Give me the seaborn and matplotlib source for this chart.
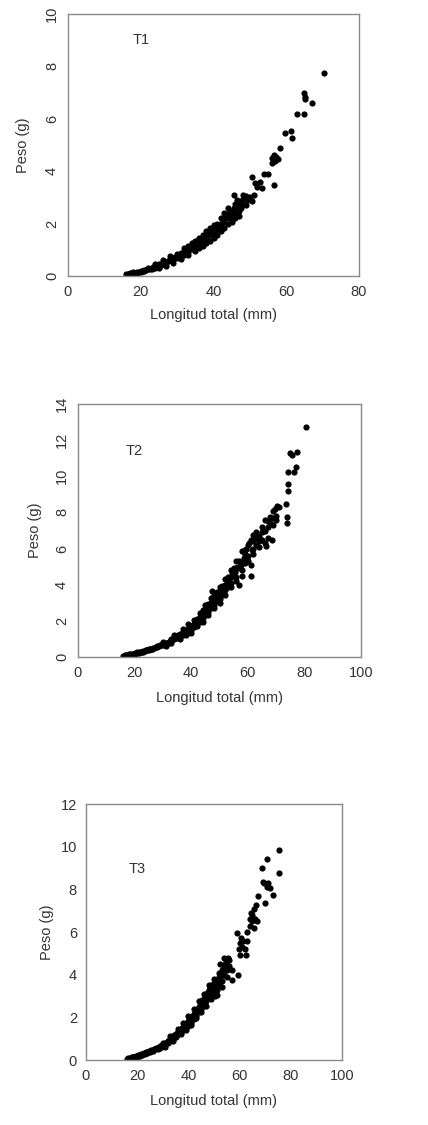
import numpy as np
import pandas as pd
import matplotlib.pyplot as plt
import seaborn as sns

# T1: longitud total (mm), peso (g)
t1_len = [16, 16.5, 17, 17, 17.5, 18, 18, 18.5, 19, 19, 19.5, 20, 20, 20.5, 21, 21, 21.5, 22, 22, 22.5,
          23, 23, 23.5, 24, 24, 24.5, 25, 25, 25.5, 26, 26, 26.5, 27, 27, 27.5, 28, 28, 28.5, 29, 29,
          29.5, 30, 30, 30.5, 31, 31, 31.5, 32, 32, 32.5, 33, 33, 33.5, 34, 34, 34.5, 35, 35, 35.5, 36,
          36, 36.5, 37, 37, 37.5, 38, 38, 38.5, 39, 39, 39.5, 40, 40, 40.5, 41, 41, 41.5, 42, 42, 42.5,
          43, 43, 43.5, 44, 44, 44.5, 45, 45, 45.5, 45.6, 46, 46, 46.5, 47, 47, 47.5, 48, 48, 49, 49.5,
          50, 50.5, 50.5, 51, 51.5, 52, 52.8, 53.2, 54, 55, 56.6, 56, 56.2, 56.5, 57, 57.3, 57.8, 58.3,
          59.7, 61.3, 61.7, 62.9, 64.9, 65, 65.1, 65.2, 67.2, 70.4,
          24, 25, 26, 27, 28, 29, 30, 31, 32, 33, 34, 35, 36, 37, 38, 39, 40, 41, 42, 43,
          44, 45, 46, 47, 48, 49, 36, 38, 40, 42, 44, 46, 33, 35, 37, 39, 41, 43, 44.5, 47.5]
t1_w = [0.07, 0.08, 0.09, 0.12, 0.1, 0.11, 0.14, 0.13, 0.15, 0.12, 0.17, 0.18, 0.15, 0.2, 0.22, 0.18, 0.24, 0.26, 0.3, 0.27,
        0.3, 0.25, 0.33, 0.35, 0.3, 0.38, 0.4, 0.45, 0.42, 0.47, 0.52, 0.5, 0.55, 0.48, 0.58, 0.6, 0.66, 0.63, 0.68, 0.6,
        0.72, 0.75, 0.68, 0.8, 0.78, 0.86, 0.84, 0.9, 0.82, 0.95, 1.0, 0.92, 1.05, 1.1, 1.02, 1.15, 1.2, 1.1, 1.25, 1.28,
        1.2, 1.35, 1.4, 1.3, 1.42, 1.5, 1.4, 1.6, 1.62, 1.85, 1.7, 1.75, 1.6, 1.8, 1.85, 2.0, 1.9, 2.0, 1.8, 2.1,
        2.2, 2.05, 2.3, 2.35, 2.2, 2.5, 2.4, 2.25, 2.6, 3.09, 2.55, 2.4, 2.9, 2.7, 2.5, 2.85, 2.95, 2.75, 3.05, 2.9,
        3.0, 3.77, 2.85, 3.1, 3.55, 3.4, 3.6, 3.35, 3.9, 3.9, 3.49, 4.5, 4.3, 4.6, 4.4, 4.55, 4.45, 4.87,
        5.45, 5.53, 5.28, 6.2, 6.2, 6.97, 6.84, 6.74, 6.6, 7.76,
        0.45, 0.32, 0.6, 0.4, 0.75, 0.5, 0.85, 0.65, 1.05, 0.8, 1.25, 0.95, 1.45, 1.15, 1.7, 1.35, 1.95, 1.55, 2.2, 1.85,
        2.6, 2.05, 2.75, 2.3, 3.1, 2.7, 1.05, 1.25, 1.45, 1.7, 2.0, 2.2, 1.15, 1.35, 1.55, 1.55, 1.7, 2.4, 2.25, 2.6]

# T2
t2_len = [16, 16.5, 17, 17.5, 18, 18, 18.5, 19, 19, 19.5, 20, 20, 20.5, 21, 21, 21.5, 22, 22, 22.5, 23,
          23, 23.5, 24, 24, 24.5, 25, 25, 25.5, 26, 26, 26.5, 27, 27.5, 28, 28, 28.5, 29, 29.5, 30, 30,
          30.5, 31, 31.5, 32, 32, 32.5, 33, 33, 33.5, 34, 34, 34.5, 35, 35, 35.5, 36, 36, 36.5, 37, 37,
          37.5, 38, 38, 38.5, 39, 39, 39.5, 40, 40, 40.5, 41, 41, 41.5, 42, 42, 42.5, 43, 43, 43.5, 44,
          44, 44.5, 45, 45, 45.5, 46, 46, 46.5, 47, 47, 47.2, 47.5, 48, 48, 48.5, 49, 49, 49.5, 50, 50,
          50.5, 51, 51, 51.5, 52, 52, 52.5, 53, 53, 53.5, 54, 54, 54.5, 55, 55, 55.5, 56, 56, 56.5, 57,
          57, 57.5, 58, 58, 58.5, 59, 59, 59.5, 60, 60, 60.5, 61, 61, 61.5, 62, 62, 62.5, 63, 63, 64,
          64, 65, 65, 65.5, 66, 66, 66.4, 67, 67, 68, 68.4, 68, 69, 69.6, 70.2, 70, 73.5, 73.7, 73.8,
          74.1, 74.3, 74.3, 74.9, 75.5, 76.3, 77, 77.5, 80.4,
          30, 31, 33, 34, 36, 37, 38, 39, 40, 41, 42, 43, 44, 45, 46, 47, 48, 49, 50, 51,
          52, 53, 54, 55, 56, 57, 58, 59, 60, 61, 62, 63, 64, 65, 66, 67, 69, 70, 71, 69,
          44, 46, 48, 50, 52, 54, 56, 58, 62]
t2_w = [0.07, 0.1, 0.09, 0.12, 0.11, 0.14, 0.15, 0.13, 0.17, 0.18, 0.17, 0.2, 0.22, 0.2, 0.25, 0.24, 0.27, 0.3, 0.3, 0.32,
        0.28, 0.35, 0.36, 0.4, 0.4, 0.42, 0.38, 0.45, 0.47, 0.43, 0.5, 0.52, 0.55, 0.57, 0.62, 0.6, 0.64, 0.68, 0.7, 0.65,
        0.74, 0.78, 0.8, 0.85, 0.78, 0.9, 0.95, 1.02, 1.0, 1.05, 0.98, 1.1, 1.15, 1.05, 1.2, 1.25, 1.15, 1.3, 1.35, 1.2,
        1.4, 1.45, 1.3, 1.5, 1.55, 1.45, 1.7, 1.65, 1.5, 1.75, 1.8, 1.65, 2.0, 1.95, 2.1, 2.05, 2.2, 1.95, 2.3, 2.35,
        2.15, 2.5, 2.6, 2.3, 2.7, 2.75, 2.5, 2.9, 3.0, 2.7, 3.67, 3.1, 3.2, 2.9, 3.3, 3.4, 3.1, 3.55, 3.5, 3.2,
        3.7, 3.75, 3.45, 3.9, 4.0, 3.7, 4.1, 4.2, 3.9, 4.3, 4.4, 4.1, 4.6, 4.5, 4.8, 4.7, 4.9, 4.4, 5.0, 4.95,
        3.98, 5.1, 5.2, 4.8, 5.5, 5.7, 5.2, 6.0, 6.2, 5.6, 6.3, 5.1, 4.5, 5.9, 6.4, 6.0, 6.6, 6.6, 6.2, 6.7,
        6.4, 6.9, 6.5, 7.0, 7.0, 7.6, 6.14, 7.2, 6.6, 7.4, 6.5, 7.75, 7.7, 8.17, 8.36, 7.8, 8.45, 7.73, 7.43,
        10.22, 9.6, 9.2, 11.3, 11.18, 10.22, 10.53, 11.36, 12.7,
        0.85, 0.6, 0.8, 1.2, 1.0, 1.55, 1.2, 1.8, 1.35, 2.05, 1.7, 2.45, 1.95, 2.85, 2.3, 3.25, 2.7, 3.6, 3.0, 3.95,
        3.45, 4.45, 3.85, 4.95, 4.2, 5.3, 4.5, 5.9, 5.3, 6.5, 5.7, 6.9, 6.1, 7.2, 6.3, 7.5, 7.3, 7.6, 8.3, 8.1,
        2.6, 2.95, 3.45, 3.85, 4.3, 4.8, 5.3, 5.85, 6.75]

# T3
t3_len = [16, 16.5, 17, 17.5, 18, 18, 18.5, 19, 19, 19.5, 20, 20, 20.5, 21, 21, 21.5, 22, 22, 22.5, 23,
          23, 23.5, 24, 24, 24.5, 25, 25, 25.5, 26, 26, 26.5, 27, 27.5, 28, 28, 28.5, 29, 29, 29.5, 30,
          30, 30.5, 31, 31, 31.5, 32, 32, 32.5, 33, 33, 33.5, 34, 34, 34.5, 35, 35, 35.5, 36, 36, 36.5,
          37, 37, 37.5, 38, 38, 38.5, 39, 39, 39.5, 40, 40, 40.5, 41, 41, 41.5, 42, 42, 42.5, 43, 43,
          43.5, 44, 44, 44.5, 45, 45, 45.5, 46, 46, 46.5, 47, 47, 47.5, 48, 48, 48.5, 49, 49, 49.5, 50,
          50, 50.5, 51, 51, 51.5, 52, 52, 52.5, 53, 53, 53.8, 54, 54, 54.5, 55, 55, 55.4, 56, 56.9,
          58.9, 59.5, 59.6, 60, 60.1, 60.5, 61, 61.5, 62, 62.5, 62.7, 63, 64, 64, 64.5, 65, 65, 65.5, 65.7,
          66, 66.5, 66.7, 67.3, 68.6, 69, 69.5, 70, 70.6, 70.8, 71.2, 71.9, 73.2, 75.4, 75.5,
          30, 31, 33, 34, 36, 37, 38, 39, 40, 41, 42, 43, 44, 45, 46, 47, 48, 49, 50, 51,
          52, 53, 54, 55, 56, 57, 48.5, 50.5, 44.5, 46.5, 52.5, 55.5]
t3_w = [0.06, 0.08, 0.1, 0.09, 0.12, 0.15, 0.13, 0.16, 0.12, 0.18, 0.2, 0.16, 0.22, 0.24, 0.2, 0.27, 0.28, 0.24, 0.31, 0.33,
        0.29, 0.36, 0.38, 0.33, 0.4, 0.42, 0.37, 0.45, 0.47, 0.42, 0.5, 0.52, 0.56, 0.58, 0.52, 0.62, 0.66, 0.58, 0.7, 0.72,
        0.64, 0.75, 0.8, 0.7, 0.85, 0.88, 0.78, 0.95, 1.0, 0.88, 1.05, 1.1, 0.98, 1.15, 1.2, 1.08, 1.25, 1.3, 1.2, 1.38,
        1.45, 1.3, 1.5, 1.55, 1.4, 1.62, 1.68, 1.5, 1.75, 1.85, 1.6, 1.9, 2.0, 1.75, 2.05, 2.15, 1.9, 2.2, 2.3, 2.05,
        2.4, 2.5, 2.25, 2.6, 2.65, 2.4, 2.8, 2.85, 2.55, 3.0, 3.1, 2.75, 3.2, 3.3, 2.95, 3.4, 3.3, 3.1, 3.55, 3.4,
        3.2, 3.0, 3.6, 3.3, 3.8, 3.9, 3.5, 4.5, 4.2, 3.7, 4.8, 4.3, 4.0, 4.6, 4.7, 4.2, 4.8, 4.4, 3.75,
        5.95, 4.0, 5.2, 5.5, 4.9, 5.7, 5.3, 5.6, 5.2, 4.9, 5.6, 6.0, 6.3, 6.6, 6.9, 6.8, 6.5, 7.1, 6.2,
        6.6, 7.25, 6.5, 7.7, 9.0, 8.36, 8.3, 7.37, 8.12, 9.4, 8.31, 8.05, 7.74, 8.75, 9.85,
        0.82, 0.62, 1.12, 0.88, 1.45, 1.2, 1.75, 1.4, 2.05, 1.65, 2.4, 1.95, 2.75, 2.25, 3.1, 2.55, 3.5, 2.85, 3.8, 3.05,
        4.1, 3.4, 4.45, 3.9, 4.7, 4.2, 3.05, 3.55, 2.4, 2.7, 3.9, 4.75]

panels = [
    ("T1", t1_len, t1_w, 80, [0, 20, 40, 60, 80], 10, [0, 2, 4, 6, 8, 10], 9.0, True,
     [68, 14, 291, 262], 0.155, 0.149),
    ("T2", t2_len, t2_w, 100, [0, 20, 40, 60, 80, 100], 14, [0, 2, 4, 6, 8, 10, 12, 14], 11.4, True,
     [78, 404, 283, 253], 0.152, 0.162),
    ("T3", t3_len, t3_w, 100, [0, 20, 40, 60, 80, 100], 12, [0, 2, 4, 6, 8, 10, 12], 8.95, False,
     [86, 804, 256, 256], 0.152, 0.160),
]

sns.set_style("white")
plt.rcParams['font.family'] = ['Liberation Sans', 'DejaVu Sans']

W, H = 428, 1125
fig = plt.figure(figsize=(W / 100, H / 100), dpi=100)
txt = "#333333"
edge = "#8a8a8a"

for name, xs, ys, xmax, xt, ymax, yt, ty, rot, box, ylab_off, xlab_off in panels:
    l, t, w, h = box
    ax = fig.add_axes([l / W, 1 - (t + h) / H, w / W, h / H])
    df = pd.DataFrame({"Longitud": xs, "Peso": ys})
    sns.scatterplot(data=df, x="Longitud", y="Peso", ax=ax, color="black",
                    s=20, linewidth=0, legend=False)
    ax.set_xlim(0, xmax)
    ax.set_ylim(0, ymax)
    ax.set_xticks(xt)
    ax.set_yticks(yt)
    for sp in ax.spines.values():
        sp.set_color(edge)
        sp.set_linewidth(1.0)
    ax.tick_params(axis="both", direction="out", length=4, width=0.9, color=edge,
                   labelsize=10.5, labelcolor=txt, pad=2.5)
    if rot:
        for lb in ax.get_yticklabels():
            lb.set_rotation(90)
            lb.set_va("center")
    ax.set_xlabel("Longitud total (mm)", fontsize=10.5, color=txt, va="center")
    ax.set_ylabel("Peso (g)", fontsize=10.5, color=txt, va="center")
    ax.xaxis.set_label_coords(0.5, -xlab_off)
    ax.yaxis.set_label_coords(-ylab_off, 0.5)
    ax.text(20, ty, name, fontsize=10.5, color=txt, ha="center", va="center")

fig.savefig("out.png", dpi=100)
